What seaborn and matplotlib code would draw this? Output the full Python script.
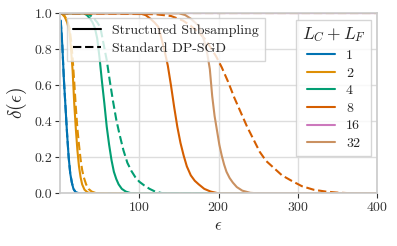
import numpy as np
import pandas as pd
import matplotlib
matplotlib.use("Agg")
import matplotlib.pyplot as plt
import seaborn as sns
from matplotlib.lines import Line2D

# ---- data ----
levels = ["1", "2", "4", "8", "16", "32"]

eps_1_s = [1, 3, 5, 7, 9, 11, 13, 15, 17, 20, 25, 400]
del_1_s = [0.96, 0.82, 0.63, 0.48, 0.33, 0.2, 0.11, 0.06, 0.025, 0.005, 0, 0]
eps_1_d = eps_1_s
del_1_d = del_1_s

eps_2_s = [0, 3, 6, 9, 12, 14, 16, 18, 20, 22, 24, 26, 28, 31, 35, 40, 400]
del_2_s = [1, 0.995, 0.98, 0.95, 0.9, 0.8, 0.68, 0.5, 0.36, 0.24, 0.15, 0.09, 0.05, 0.02, 0.005, 0, 0]
eps_2_d = [0, 3, 6, 9, 12, 14, 16, 18, 20, 22, 24, 26, 28, 30, 33, 36, 40, 45, 50, 400]
del_2_d = [1, 0.997, 0.985, 0.96, 0.92, 0.85, 0.75, 0.62, 0.48, 0.36, 0.27, 0.19, 0.13, 0.09, 0.05, 0.025, 0.01, 0.002, 0, 0]

eps_4_s = [0, 30, 34, 38, 41, 44, 47, 50, 53, 56, 59, 62, 65, 68, 71, 74, 78, 83, 90, 400]
del_4_s = [1, 1, 0.99, 0.97, 0.95, 0.92, 0.86, 0.75, 0.62, 0.5, 0.37, 0.27, 0.185, 0.12, 0.08, 0.05, 0.025, 0.01, 0, 0]
eps_4_d = [0, 32, 38, 43, 47, 51, 55, 59, 63, 67, 71, 75, 80, 85, 90, 95, 100, 106, 113, 120, 130, 400]
del_4_d = [1, 1, 0.99, 0.97, 0.95, 0.92, 0.83, 0.74, 0.62, 0.51, 0.41, 0.33, 0.24, 0.17, 0.125, 0.09, 0.065, 0.045, 0.025, 0.01, 0, 0]

eps_8_s = [0, 100, 108, 114, 119, 124, 128, 132, 136, 140, 144, 148, 152, 156, 160, 165, 170, 175, 182, 190, 200, 400]
del_8_s = [1, 1, 0.99, 0.97, 0.95, 0.925, 0.86, 0.79, 0.71, 0.6, 0.48, 0.37, 0.28, 0.21, 0.15, 0.1, 0.07, 0.05, 0.025, 0.01, 0, 0]
eps_8_d = [0, 120, 140, 155, 165, 176, 184, 190, 197, 204, 212, 220, 228, 236, 244, 252, 260, 270, 280, 292, 305, 320, 335, 350, 365, 380, 400]
del_8_d = [1, 0.995, 0.985, 0.96, 0.93, 0.89, 0.85, 0.81, 0.76, 0.7, 0.62, 0.53, 0.45, 0.37, 0.3, 0.23, 0.18, 0.14, 0.1, 0.07, 0.04, 0.02, 0.01, 0.004, 0.001, 0, 0]

eps_16_s = [0, 400]
del_16_s = [1, 1]
eps_16_d = [0, 400]
del_16_d = [1, 1]

eps_32_s = [0, 150, 158, 165, 170, 175, 179, 183, 186, 189, 192, 195, 198, 201, 204, 207, 210, 214, 218, 223, 230, 240, 250, 400]
del_32_s = [1, 1, 0.99, 0.97, 0.95, 0.93, 0.89, 0.83, 0.77, 0.69, 0.54, 0.43, 0.35, 0.27, 0.21, 0.16, 0.12, 0.085, 0.06, 0.035, 0.015, 0.003, 0, 0]
eps_32_d = [0, 400]
del_32_d = [1, 1]

series = {
    ("1", "Structured Subsampling"): (eps_1_s, del_1_s),
    ("1", "Standard DP-SGD"): (eps_1_d, del_1_d),
    ("2", "Structured Subsampling"): (eps_2_s, del_2_s),
    ("2", "Standard DP-SGD"): (eps_2_d, del_2_d),
    ("4", "Structured Subsampling"): (eps_4_s, del_4_s),
    ("4", "Standard DP-SGD"): (eps_4_d, del_4_d),
    ("8", "Structured Subsampling"): (eps_8_s, del_8_s),
    ("8", "Standard DP-SGD"): (eps_8_d, del_8_d),
    ("16", "Structured Subsampling"): (eps_16_s, del_16_s),
    ("16", "Standard DP-SGD"): (eps_16_d, del_16_d),
    ("32", "Structured Subsampling"): (eps_32_s, del_32_s),
    ("32", "Standard DP-SGD"): (eps_32_d, del_32_d),
}

rows = []
for (lv, meth), (xs, ys) in series.items():
    for x, y in zip(xs, ys):
        rows.append({"eps": x, "delta": y, "L": lv, "method": meth})
df = pd.DataFrame(rows)

# ---- style ----
sns.set_theme(style="whitegrid")
plt.rcParams.update({
    "font.family": ["cmr10", "DejaVu Serif"],
    "mathtext.fontset": "cm",
    "axes.formatter.use_mathtext": True,
    "axes.edgecolor": "#cccccc",
    "grid.color": "#dddddd",
    "xtick.bottom": True,
    "ytick.left": True,
    "xtick.major.size": 3.5,
    "ytick.major.size": 3.5,
    "xtick.color": "#333333",
    "ytick.color": "#333333",
    "xtick.major.width": 0.8,
    "ytick.major.width": 0.8,
})

palette = sns.color_palette("colorblind", 6)

fig = plt.figure(figsize=(3.97, 2.46), dpi=100)
ax = fig.add_axes([0.151, 0.214, 0.799, 0.732])

sns.lineplot(data=df, x="eps", y="delta", hue="L", hue_order=levels,
             style="method", style_order=["Structured Subsampling", "Standard DP-SGD"],
             dashes={"Structured Subsampling": "", "Standard DP-SGD": (4, 1.8)},
             palette=palette, estimator=None, sort=False, linewidth=1.5,
             legend=False, ax=ax)

ax.set_xlim(0, 400)
ax.set_ylim(0, 1)
ax.set_xticks([100, 200, 300, 400])
ax.set_yticks([0.0, 0.2, 0.4, 0.6, 0.8, 1.0])
ax.set_yticklabels(["0.0", "0.2", "0.4", "0.6", "0.8", "1.0"])
ax.tick_params(labelsize=10, pad=2)
ax.set_xlabel(r"$\epsilon$", fontsize=12, labelpad=3)
ax.set_ylabel(r"$\delta(\epsilon)$", fontsize=14, labelpad=4)
for s in ax.spines.values():
    s.set_color("#cccccc")

h1 = [Line2D([], [], color="black", lw=1.5, ls="-"),
      Line2D([], [], color="black", lw=1.5, ls=(0, (4, 1.8)))]
leg1 = ax.legend(h1, ["Structured Subsampling", "Standard DP-SGD"],
                 loc="upper left", bbox_to_anchor=(0.022, 0.974), fontsize=10,
                 frameon=True, framealpha=0.8, edgecolor="#cccccc", fancybox=False,
                 borderpad=0.45, labelspacing=0.35, handlelength=2.0, borderaxespad=0)
ax.add_artist(leg1)
h2 = [Line2D([], [], color=palette[i], lw=1.5) for i in range(6)]
leg2 = ax.legend(h2, levels, title=r"$L_C + L_F$", loc="upper right",
                 bbox_to_anchor=(0.981, 0.963), fontsize=10, title_fontsize=12.5,
                 frameon=True, framealpha=0.8, edgecolor="#cccccc", fancybox=False,
                 borderpad=0.4, labelspacing=0.35, handlelength=2.0, borderaxespad=0)

fig.savefig("out.png", dpi=100)
